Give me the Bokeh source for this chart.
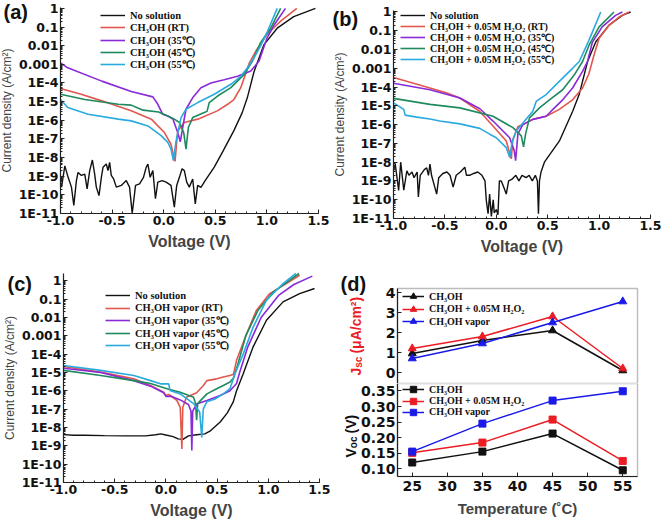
import math
from bokeh.plotting import figure
from bokeh.models import (Range1d, FixedTicker, CustomJSTickFormatter, NumeralTickFormatter,
                          Legend, LegendItem, Label, BoxAnnotation)
from bokeh.layouts import row, column
from bokeh.embed import file_html
from bokeh.resources import INLINE

# ----------------------------------------------------------------- data ----
J_TICKS = [1e-11, 1e-10, 1e-9, 1e-8, 1e-7, 1e-6, 1e-5, 1e-4, 1e-3, 1e-2, 1e-1, 1.0]
J_TICK_LABELS = ["1E-11", "1E-10", "1E-9", "1E-8", "1E-7", "1E-6", "1E-5", "1E-4",
                 "0.001", "0.01", "0.1", "1"]
V_TICKS = [-1.0, -0.5, 0.0, 0.5, 1.0, 1.5]

# panel (a)
A_NOSOL_V = [-1.0, -0.99, -0.958, -0.926, -0.894, -0.871, -0.846, -0.83, -0.797, -0.765,
             -0.742, -0.717, -0.691, -0.669, -0.653, -0.627, -0.604, -0.588, -0.556, -0.54,
             -0.524, -0.508, -0.485, -0.459, -0.411, -0.363, -0.331, -0.305, -0.273, -0.234,
             -0.196, -0.17, -0.153, -0.131, -0.105, -0.08, -0.057, -0.015, 0.023, 0.071,
             0.103, 0.126, 0.152, 0.178, 0.2, 0.223, 0.248, 0.281, 0.306, 0.329,
             0.361, 0.40, 0.49, 0.58, 0.68, 0.76, 0.81, 0.875, 0.97, 1.10, 1.26, 1.47]
A_NOSOL_J = [4e-10, 2.6e-10, 3.6e-9, 8.7e-10, 2.6e-10, 2.7e-11, 5.8e-10, 1.6e-9, 1.1e-9, 1.3e-9,
             2.1e-10, 2.0e-9, 7.4e-9, 1.3e-9, 2.6e-10, 9.1e-11, 8.7e-10, 3.0e-9, 4.5e-9, 2.0e-9,
             5.5e-9, 1.1e-9, 7.1e-10, 2.6e-10, 3.2e-10, 5.8e-10, 2.6e-10, 1.0e-11, 3.2e-10, 3.9e-10,
             8.7e-10, 3.0e-9, 4.5e-9, 8.7e-10, 2.0e-9, 6.2e-11, 4.8e-10, 5.8e-10, 4.8e-10, 3.2e-10,
             2.2e-11, 3.2e-10, 8.7e-10, 2.5e-9, 2.0e-9, 4.8e-10, 2.6e-10, 7.1e-10, 3.3e-11, 3.2e-10,
             2.5e-10, 5.6e-10, 3.1e-9, 2.5e-8, 2.8e-7, 2.5e-6, 1.6e-5, 4e-4, 1.1e-2, 8.7e-2, 0.36, 1.0]
A_RT_V = [-1.0, -0.8, -0.6, -0.315, -0.12, 0.007, 0.07, 0.10, 0.11, 0.125, 0.136, 0.2, 0.33,
          0.52, 0.62, 0.68, 0.747, 0.83, 0.9, 1.0, 1.13, 1.29]
A_RT_J = [5.1e-5, 2.5e-5, 1.1e-5, 3.2e-6, 1.15e-6, 2.2e-7, 5.2e-8, 1.0e-8, 6.3e-9, 6e-8, 2.7e-7,
          7.6e-7, 1.15e-6, 3.2e-6, 7.2e-6, 1.3e-5, 5.6e-5, 1.2e-3, 6e-3, 4e-2, 0.2, 1.0]
A_35_V = [-1.0, -0.93, -0.6, -0.315, -0.105, -0.057, -0.009, 0.04, 0.09, 0.136, 0.161, 0.184,
          0.216, 0.28, 0.361, 0.458, 0.586, 0.715, 0.844, 0.924, 1.0, 1.07, 1.18]
A_35_J = [1.2e-3, 6.5e-4, 1.26e-4, 3.5e-5, 1.8e-5, 7.2e-6, 2.1e-6, 1.7e-6, 1.15e-6, 2.2e-7, 7e-8,
          4.1e-7, 3.9e-6, 1.6e-5, 5.6e-5, 1.0e-4, 1.5e-4, 2.3e-4, 4.4e-4, 1.5e-3, 2.5e-2, 0.13, 1.0]
A_45_V = [-1.0, -0.765, -0.44, -0.315, -0.25, -0.2, -0.05, 0.04, 0.103, 0.152, 0.194, 0.216,
          0.239, 0.281, 0.393, 0.42, 0.441, 0.522, 0.651, 0.78, 0.86, 0.94, 1.037, 1.133]
A_45_J = [2.5e-5, 1.3e-5, 7.2e-6, 6.5e-6, 4.5e-6, 3.5e-6, 2.8e-6, 1.7e-6, 1.15e-6, 7.6e-7, 2.2e-7,
          2.8e-8, 4.1e-7, 1.4e-6, 2.6e-6, 3.0e-6, 8.9e-6, 2.0e-5, 5.6e-5, 2.9e-4, 1.5e-3, 1.5e-2,
          8.7e-2, 1.0]
A_55_V = [-1.0, -0.93, -0.733, -0.44, -0.315, -0.153, -0.025, 0.04, 0.071, 0.094, 0.12, 0.168,
          0.216, 0.33, 0.49, 0.651, 0.747, 0.81, 0.88, 0.94, 1.005, 1.10]
A_55_J = [1.3e-5, 4.8e-6, 2.1e-6, 1.15e-6, 9.3e-7, 5e-7, 1.5e-7, 6.5e-8, 2.8e-8, 6.8e-9, 7.9e-8,
          1.4e-6, 3.9e-6, 8.9e-6, 2.5e-5, 8.5e-5, 2.3e-4, 6.3e-4, 2.5e-3, 1e-2, 5.8e-2, 1.0]

# panel (b)
B_NOSOL_V = [-1.0, -0.983, -0.95, -0.93, -0.90, -0.87, -0.85, -0.82, -0.80, -0.77,
             -0.758, -0.74, -0.70, -0.677, -0.66, -0.645, -0.63, -0.60, -0.58, -0.56,
             -0.52, -0.48, -0.45, -0.42, -0.39, -0.35, -0.306, -0.29, -0.26, -0.22,
             -0.18, -0.14, -0.11, -0.097, -0.08, -0.065, -0.048, -0.03, -0.02, 0.0,
             0.016, 0.03, 0.048, 0.07, 0.097, 0.12, 0.15, 0.19, 0.22, 0.25,
             0.29, 0.32, 0.35, 0.38, 0.40, 0.41, 0.42, 0.435, 0.468, 0.614,
             0.743, 0.806, 0.888, 0.968, 1.097, 1.226, 1.306]
B_NOSOL_J = [3.5e-9, 7.9e-9, 3.1e-10, 1e-8, 3.2e-10, 3.5e-9, 2e-9, 3e-9, 1.5e-9, 3e-9,
             1.4e-10, 2e-9, 4e-9, 5e-9, 2e-9, 8e-9, 2e-9, 5e-10, 2e-10, 1.5e-9,
             2.5e-9, 3e-9, 2e-9, 4.7e-10, 2e-9, 3e-9, 5.4e-9, 2e-9, 2e-9, 2.5e-9,
             3e-9, 2e-9, 1e-9, 9e-11, 1.8e-11, 2e-10, 1.3e-11, 1e-10, 2e-11, 3e-11,
             1.6e-11, 1e-9, 1e-9, 5e-10, 2e-10, 1e-9, 1.2e-9, 2e-9, 1e-9, 2e-9,
             1.5e-9, 2e-9, 1e-9, 2e-9, 1e-9, 1.8e-11, 1e-9, 3e-9, 1e-8, 1.35e-7,
             5.2e-6, 4e-5, 2.3e-3, 2.6e-2, 0.2, 0.66, 1.0]
B_RT_V = [-1.0, -0.645, -0.48, -0.354, -0.16, -0.032, 0.097, 0.146, 0.16, 0.21, 0.258, 0.355,
          0.485, 0.613, 0.742, 0.839, 0.90, 0.95, 1.0, 1.1, 1.2, 1.29]
B_RT_J = [3.2e-4, 8.9e-5, 4.9e-5, 2.6e-5, 5e-6, 8.5e-7, 1.35e-7, 1.5e-8, 1.5e-7, 8e-7, 1.0e-6,
          1.9e-6, 2.8e-6, 6.5e-6, 2.1e-5, 8.9e-5, 5e-4, 5e-3, 4e-2, 0.2, 0.56, 1.0]
B_35_V = [-1.0, -0.645, -0.354, -0.16, -0.032, 0.13, 0.175, 0.188, 0.21, 0.258, 0.355, 0.485,
          0.533, 0.646, 0.742, 0.839, 0.887, 0.935, 1.03, 1.16, 1.226]
B_35_J = [1.6e-4, 7.2e-5, 2.6e-5, 7e-6, 1.55e-6, 2.0e-7, 4e-8, 1.2e-8, 3.2e-7, 1.0e-6, 1.9e-6,
          2.8e-6, 5.2e-6, 2.1e-5, 8.9e-5, 6.8e-4, 2.3e-3, 2.5e-2, 0.16, 0.66, 1.0]
B_45_V = [-1.0, -0.645, -0.354, -0.032, 0.162, 0.243, 0.265, 0.285, 0.323, 0.42, 0.517, 0.646,
          0.759, 0.839, 0.9, 1.0, 1.145]
B_45_J = [2.5e-5, 1.2e-5, 7.8e-6, 2.8e-6, 6.9e-7, 2.5e-7, 6.6e-8, 3.2e-7, 2.3e-6, 7.8e-6, 2.1e-5,
          7.2e-5, 4.5e-4, 2.3e-3, 1.6e-2, 0.16, 1.0]
B_55_V = [-1.0, -0.9, -0.887, -0.774, -0.645, -0.55, -0.354, -0.161, -0.064, 0.0, 0.097, 0.13,
          0.155, 0.194, 0.275, 0.355, 0.39, 0.485, 0.613, 0.742, 0.807, 0.9, 1.016]
B_55_J = [1.45e-5, 6.5e-6, 3.2e-6, 2.5e-6, 2.0e-6, 1.55e-6, 1.1e-6, 6.3e-7, 3.1e-7, 2.0e-7, 6e-8,
          1.8e-8, 1.26e-7, 4.6e-7, 1.55e-6, 5.2e-6, 1.8e-5, 4e-5, 2e-4, 1e-3, 2.3e-3, 3e-2, 1.0]

# panel (c)
C_NOSOL_V = [-1.0, -0.9, -0.8, -0.6, -0.4, -0.2, -0.1, -0.05, 0.0, 0.07, 0.12, 0.17, 0.22,
             0.3, 0.38, 0.43, 0.53, 0.6, 0.658, 0.69, 0.755, 0.852, 0.982, 1.144, 1.306, 1.452]
C_NOSOL_J = [4.1e-9, 3.8e-9, 3.8e-9, 3.6e-9, 3.5e-9, 3.5e-9, 4.0e-9, 4.5e-9, 3.9e-9, 3.2e-9,
             2.4e-9, 2.3e-9, 3.5e-9, 4.0e-9, 4.5e-9, 6.3e-9, 2.0e-8, 6.3e-8, 2.5e-7, 1.0e-6,
             8.5e-6, 2.5e-4, 7.1e-3, 7.1e-2, 0.2, 0.38]
C_RT_V = [-1.0, -0.637, -0.313, -0.15, -0.022, 0.0, 0.03, 0.107, 0.14, 0.156, 0.165, 0.2, 0.30,
          0.366, 0.40, 0.497, 0.56, 0.626, 0.66, 0.69, 0.788, 0.885, 1.014, 1.176, 1.306]
C_RT_J = [2.1e-5, 1.05e-5, 4.5e-6, 1.95e-6, 8.3e-7, 5.5e-7, 6.3e-7, 3.0e-7, 1.26e-7, 6.8e-10,
          1.26e-7, 4.5e-7, 7.9e-7, 1.95e-6, 3.6e-6, 4.5e-6, 5.6e-6, 6.9e-6, 7.9e-6, 4.6e-5,
          1.3e-3, 2.5e-2, 0.2, 0.7, 2.0]
C_35_V = [-1.0, -0.637, -0.313, -0.15, -0.022, 0.0, 0.05, 0.14, 0.22, 0.245, 0.253, 0.262, 0.30,
          0.40, 0.53, 0.626, 0.69, 0.72, 0.80, 0.93, 1.1, 1.25, 1.43]
C_35_J = [1.7e-5, 1.0e-5, 3.6e-6, 1.8e-6, 7.9e-7, 5e-7, 5e-7, 3.2e-7, 1.8e-7, 7.9e-8, 5.5e-10,
          7.9e-8, 1.9e-7, 3.0e-7, 5.5e-7, 1.0e-6, 2.5e-6, 1.0e-5, 2.5e-4, 1.0e-2, 0.16, 0.63, 1.8]
C_45_V = [-1.0, -0.637, -0.313, -0.15, 0.01, 0.14, 0.27, 0.29, 0.30, 0.31, 0.40, 0.496, 0.56,
          0.626, 0.66, 0.70, 0.78, 0.90, 1.05, 1.2, 1.3]
C_45_J = [1.3e-5, 6.9e-6, 3.6e-6, 2.5e-6, 1.3e-6, 8.3e-7, 4.5e-7, 2e-7, 2.5e-8, 2e-7, 6.8e-7,
          1.3e-6, 1.95e-6, 3.0e-6, 5e-6, 2.5e-5, 1e-3, 2.5e-2, 0.25, 1.0, 2.5]
C_55_V = [-1.0, -0.637, -0.313, -0.15, -0.054, 0.027, 0.04, 0.14, 0.27, 0.33, 0.35, 0.365, 0.40,
          0.48, 0.56, 0.626, 0.674, 0.755, 0.852, 0.982, 1.144, 1.27]
C_55_J = [2.4e-5, 1.3e-5, 6.9e-6, 3.6e-6, 2.4e-6, 2.4e-6, 1.05e-6, 6.8e-7, 2e-7, 7e-8, 2.9e-9,
          1e-7, 2.5e-7, 3.6e-7, 6.8e-7, 1.3e-6, 8.5e-6, 1e-4, 3e-3, 8.7e-2, 0.7, 2.5]

# panel (d)
TEMPS = [25, 35, 45, 55]
JSC_CH3OH = [0.95, 1.6, 2.1, 0.1]
JSC_H2O2 = [1.2, 1.8, 2.8, 0.2]
JSC_VAPOR = [0.7, 1.45, 2.5, 3.55]
VOC_CH3OH = [0.12, 0.155, 0.213, 0.095]
VOC_H2O2 = [0.151, 0.184, 0.258, 0.125]
VOC_VAPOR = [0.155, 0.245, 0.319, 0.349]

LEG_A = ["No solution", "CH₃OH (RT)", "CH₃OH (35℃)", "CH₃OH (45℃)", "CH₃OH (55℃)"]
LEG_B = ["No solution", "CH₃OH + 0.05M H₂O₂ (RT)", "CH₃OH + 0.05M H₂O₂ (35℃)",
         "CH₃OH + 0.05M H₂O₂ (45℃)", "CH₃OH + 0.05M H₂O₂ (55℃)"]
LEG_C = ["No solution", "CH₃OH vapor (RT)", "CH₃OH vapor (35℃)", "CH₃OH vapor (45℃)",
         "CH₃OH vapor (55℃)"]
LEG_D = ["CH₃OH", "CH₃OH + 0.05M H₂O₂", "CH₃OH vapor"]

# --------------------------------------------------------------- styling ----
SANS = "Liberation Sans"
SERIF = "Liberation Serif"
TICKF = "DejaVu Sans"
C_BLACK, C_RED, C_PURPLE, C_GREEN, C_CYAN = "#111111", "#e2574e", "#8a2ad8", "#1e8a5e", "#2aaade"
D_BLACK, D_RED, D_BLUE = "#111111", "#ec1c24", "#1a1ae8"

LOG_MINOR = [m * t for t in J_TICKS[:-1] for m in (2, 3, 4, 5, 6, 7, 8, 9)]
V_MINOR = [round(-1.0 + 0.1 * i, 2) for i in range(26)]
ROW_BOX = 16  # legend item box height (px)


def style_axis(ax, size="12.5px"):
    ax.axis_line_color = "#222222"
    ax.axis_line_width = 1.2
    ax.major_tick_line_color = "#222222"
    ax.minor_tick_line_color = "#222222"
    ax.major_tick_in = 4
    ax.major_tick_out = 0
    ax.minor_tick_in = 2
    ax.minor_tick_out = 0
    ax.major_label_text_font = TICKF
    ax.major_label_text_font_style = "bold"
    ax.major_label_text_font_size = size
    ax.major_label_text_color = "#111111"
    ax.major_label_standoff = 2


def add_legend_rows(p, renderer_lists, names, dx, box_top, first_below_top, row_step,
                    font_px, glyph_w):
    """one single-item legend per row, so that row spacing is exact"""
    for i, (rs, name) in enumerate(zip(renderer_lists, names)):
        center = box_top - first_below_top - i * row_step
        leg = Legend(items=[LegendItem(label=name, renderers=rs)],
                     location=(dx, center - ROW_BOX / 2))
        leg.label_text_font = SERIF
        leg.label_text_font_style = "bold"
        leg.label_text_font_size = f"{font_px}px"
        leg.label_text_color = "#111111"
        leg.label_height = ROW_BOX
        leg.glyph_height = ROW_BOX
        leg.glyph_width = glyph_w
        leg.label_standoff = 5
        leg.spacing = 0
        leg.padding = 0
        leg.margin = 0
        leg.border_line_color = None
        leg.background_fill_alpha = 0
        p.add_layout(leg)


def canvas_label(p, text, x, y, size, color="#111111", angle=0.0, baseline="top"):
    # the frame fills the whole canvas: x from its left edge, y from its bottom edge
    p.add_layout(Label(x=x, y=y, x_units="screen", y_units="screen", text=text, angle=angle,
                       text_align="left", text_baseline=baseline, text_font=SANS,
                       text_font_style="bold", text_font_size=f"{size}px", text_color=color))


def full_canvas_figure(width, height, x_range, y_range, **kw):
    p = figure(width=width, height=height, x_range=x_range, y_range=y_range,
               output_backend="svg", toolbar_location=None,
               min_border_left=0, min_border_right=0, min_border_top=0, min_border_bottom=0,
               **kw)
    p.outline_line_color = None
    p.xgrid.visible = False
    p.ygrid.visible = False
    p.title.visible = False
    return p


def iv_panel(letter, series, names, width, height, left, right, top, bottom, y_end,
             leg_dx, leg_first, leg_row, leg_font, let_x, let_top):
    fw = width - left - right
    fh = height - top - bottom
    sx = 2.5 / fw
    lo, hi = -11.0, math.log10(y_end)
    sy = (hi - lo) / fh
    p = full_canvas_figure(width, height,
                           Range1d(-1.0 - left * sx, 1.5 + right * sx),
                           Range1d(10 ** (lo - bottom * sy), 10 ** (hi + top * sy)),
                           y_axis_type="log")
    style_axis(p.xaxis[0])
    style_axis(p.yaxis[0])
    p.xaxis.fixed_location = 1e-11
    p.xaxis.bounds = (-1.0, 1.5)
    p.yaxis.fixed_location = -1.0
    p.yaxis.bounds = (1e-11, y_end)
    p.yaxis.ticker = FixedTicker(ticks=J_TICKS, minor_ticks=LOG_MINOR)
    p.yaxis.formatter = CustomJSTickFormatter(
        args=dict(labels=J_TICK_LABELS),
        code="return labels[Math.round(Math.log10(tick)) + 11];")
    p.xaxis.ticker = FixedTicker(ticks=V_TICKS, minor_ticks=V_MINOR)
    p.xaxis.formatter = NumeralTickFormatter(format="0.0")
    p.xaxis.axis_label = "Voltage (V)"
    p.xaxis.axis_label_text_font = SANS
    p.xaxis.axis_label_text_font_style = "bold"
    p.xaxis.axis_label_text_font_size = "16px"
    p.xaxis.axis_label_standoff = 5
    p.yaxis.axis_label = "Current density (A/cm²)"
    p.yaxis.axis_label_text_font = SANS
    p.yaxis.axis_label_text_font_style = "normal"
    p.yaxis.axis_label_text_font_size = "12px"
    p.yaxis.axis_label_standoff = 2

    rlists = []
    for vx, jy, color, lw in series:
        rlists.append([p.line(vx, jy, line_color=color, line_width=lw)])
    add_legend_rows(p, rlists, names, left + leg_dx, height - top, leg_first, leg_row,
                    leg_font, 25)
    canvas_label(p, f"({letter})", let_x, height - let_top, 20)
    return p


CW = {'J': .556, 'V': .667, 's': .556, 'c': .556, 'o': .611, ' ': .278, '(': .333,
      ')': .333, 'μ': .577, 'A': .722, '/': .278, 'm': .889, '²': .333}


def vlabel(p, parts, base_x, start_y, color):
    pos = start_y
    for text, size, shift, gap in parts:
        pos += gap
        canvas_label(p, text, base_x + shift, pos, size, color, angle=math.pi / 2,
                     baseline="alphabetic")
        pos += sum(CW.get(ch, .6) for ch in text) * size


# ---------------------------------------------------------------- panels ----
LW = 1.6
pa = iv_panel("a", [(A_NOSOL_V, A_NOSOL_J, C_BLACK, 1.4), (A_RT_V, A_RT_J, C_RED, LW),
                    (A_35_V, A_35_J, C_PURPLE, LW), (A_45_V, A_45_J, C_GREEN, LW),
                    (A_55_V, A_55_J, C_CYAN, LW)], LEG_A,
              width=330, height=262, left=60, right=12, top=7, bottom=49, y_end=1.12,
              leg_dx=40, leg_first=8, leg_row=12.25, leg_font=10.5, let_x=3, let_top=0)
pb = iv_panel("b", [(B_NOSOL_V, B_NOSOL_J, C_BLACK, 1.4), (B_RT_V, B_RT_J, C_RED, LW),
                    (B_35_V, B_35_J, C_PURPLE, LW), (B_45_V, B_45_J, C_GREEN, LW),
                    (B_55_V, B_55_J, C_CYAN, LW)], LEG_B,
              width=332, height=262, left=63, right=12, top=10, bottom=44, y_end=1.2,
              leg_dx=7, leg_first=5, leg_row=11.1, leg_font=10, let_x=2, let_top=7)
pc = iv_panel("c", [(C_NOSOL_V, C_NOSOL_J, C_BLACK, 1.4), (C_RT_V, C_RT_J, C_RED, LW),
                    (C_35_V, C_35_J, C_PURPLE, LW), (C_45_V, C_45_J, C_GREEN, LW),
                    (C_55_V, C_55_J, C_CYAN, LW)], LEG_C,
              width=330, height=262, left=63, right=11, top=11, bottom=42, y_end=2.5,
              leg_dx=42, leg_first=22, leg_row=12.5, leg_font=10.5, let_x=7, let_top=10)

# panel (d)
D_W, D_L, D_R = 332, 67, 25
D1_H, D1_TOP = 121, 26
D2_H, D2_BOT = 141, 48
T0, T1 = 22.9, 57.1
J0, J1 = -0.55, 4.2
V0, V1 = 0.075, 0.374
dsx = (T1 - T0) / (D_W - D_L - D_R)
xr_d = Range1d(T0 - D_L * dsx, T1 + D_R * dsx)
s1 = (J1 - J0) / (D1_H - D1_TOP)
s2 = (V1 - V0) / (D2_H - D2_BOT)

d1 = full_canvas_figure(D_W, D1_H, xr_d, Range1d(J0, J1 + D1_TOP * s1), x_axis_location=None)
d2 = full_canvas_figure(D_W, D2_H, xr_d, Range1d(V0 - D2_BOT * s2, V1))
for p, lo_, hi_ in ((d1, J0, J1), (d2, V0, V1)):
    p.add_layout(BoxAnnotation(left=T0, right=T1, bottom=lo_, top=hi_, fill_alpha=0,
                               line_color="#222222", line_width=1.4))
    for ax in p.xaxis + p.yaxis:
        style_axis(ax, "14px")
        ax.minor_tick_line_color = None
    p.yaxis.fixed_location = T0
    p.yaxis.bounds = (lo_, hi_)

d1.yaxis.ticker = FixedTicker(ticks=[0, 1, 2, 3, 4])
d2.yaxis.ticker = FixedTicker(ticks=[0.10, 0.15, 0.20, 0.25, 0.30, 0.35])
d2.yaxis.formatter = NumeralTickFormatter(format="0.00")
d2.xaxis.ticker = FixedTicker(ticks=[25, 30, 35, 40, 45, 50, 55])
d2.xaxis.fixed_location = V0
d2.xaxis.bounds = (T0, T1)
d2.xaxis.major_label_standoff = 4
d2.xaxis.axis_label = "Temperature (˚C)"
d2.xaxis.axis_label_text_font = SANS
d2.xaxis.axis_label_text_font_style = "bold"
d2.xaxis.axis_label_text_font_size = "15px"
d2.xaxis.axis_label_standoff = 6


def d_series(p, ys, marker, size, box_top, first, step):
    rlists = []
    for y, color in zip(ys, (D_BLACK, D_RED, D_BLUE)):
        rl = p.line(TEMPS, y, line_color=color, line_width=1.5)
        rs = p.scatter(TEMPS, y, marker=marker, size=size, fill_color=color, line_color=color)
        rlists.append([rl, rs])
    add_legend_rows(p, rlists, LEG_D, D_L + 5, box_top, first, step, 10, 22)


d_series(d1, [JSC_CH3OH, JSC_H2O2, JSC_VAPOR], "triangle", 8, D1_H - D1_TOP, 8, 12.5)
d_series(d2, [VOC_CH3OH, VOC_H2O2, VOC_VAPOR], "square", 7, D2_H, 6.3, 11.3)

vlabel(d1, [("J", 14, 0, 0), ("sc", 10, 3, 0), ("(μA/cm²)", 14, 0, 3)], 25, 8, D_RED)
vlabel(d2, [("V", 14, 0, 0), ("oc", 10, 3, 0), ("(V)", 14, 0, 3)], 20, D2_BOT + 19, "#111111")
canvas_label(d1, "(d)", 10, D1_H - 10, 20)

layout = column(row(pa, pb), row(pc, column(d1, d2)))
open("out.html", "w").write(file_html(layout, INLINE))
